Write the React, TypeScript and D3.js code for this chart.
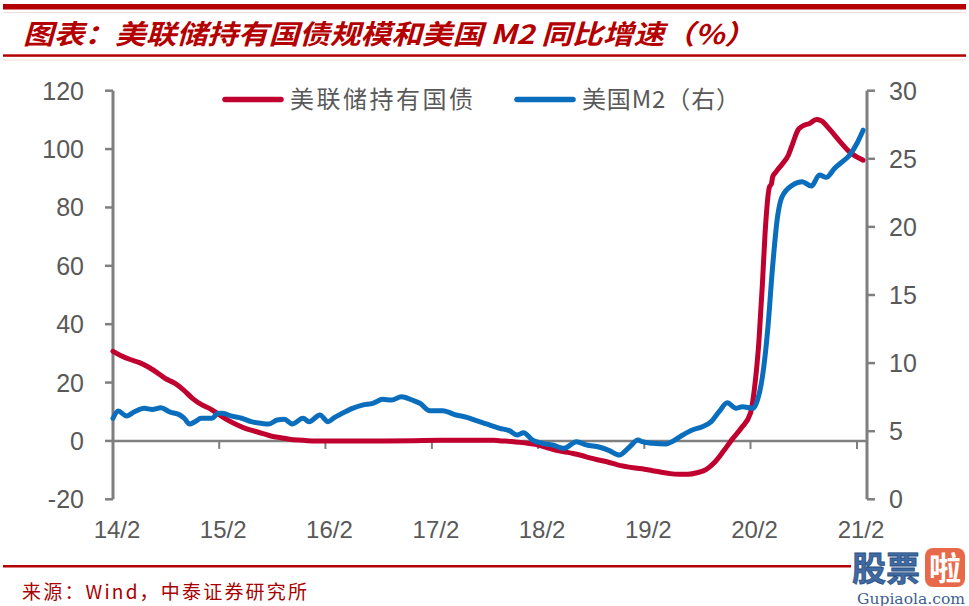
import React from "react";
import * as d3 from "d3";

const fedDates = [
  "2014-02-01","2014-03-01","2014-04-01","2014-05-01","2014-06-01","2014-07-01","2014-08-01","2014-09-01",
  "2014-10-01","2014-11-01","2014-12-01","2015-01-01","2015-02-01","2015-03-01","2015-04-01","2015-05-01",
  "2015-06-01","2015-07-01","2015-08-01","2015-09-01","2015-10-01","2015-11-01","2015-12-01","2016-01-01",
  "2016-04-01","2016-08-01","2016-12-01","2017-03-01","2017-06-01","2017-09-01","2017-10-01","2017-11-01",
  "2017-12-01","2018-01-01","2018-02-01","2018-03-01","2018-04-01","2018-05-01","2018-06-01","2018-07-01",
  "2018-08-01","2018-09-01","2018-10-01","2018-11-01","2018-12-01","2019-01-01","2019-02-01","2019-03-01",
  "2019-04-01","2019-05-01","2019-06-01","2019-07-01","2019-08-01","2019-09-01","2019-10-01","2019-11-01",
  "2019-12-01","2020-01-01","2020-02-01","2020-02-15","2020-03-01","2020-03-13","2020-03-22","2020-04-06",
  "2020-04-13","2020-04-17","2020-04-28","2020-05-21","2020-06-10","2020-06-25","2020-07-13","2020-07-28",
  "2020-08-22","2020-09-14","2020-10-01","2020-10-28","2020-12-01","2021-01-07","2021-01-31","2021-02-22"
];
const fedValues = [
  30.7, 29.2, 27.9, 26.9, 25.4, 23.5, 21.3, 19.8,
  17.5, 14.6, 12.5, 11.0, 9.0, 7.2, 5.6, 4.3,
  3.4, 2.5, 1.6, 1.1, 0.6, 0.3, 0.1, 0.0,
  0.0, 0.0, 0.1, 0.2, 0.2, 0.2, 0.0, -0.2,
  -0.5, -0.9, -1.4, -2.2, -3.1, -3.7, -4.3, -5.0,
  -5.9, -6.6, -7.3, -8.2, -8.8, -9.3, -9.7, -10.2,
  -10.7, -11.2, -11.4, -11.4, -10.9, -9.8, -7.3, -3.4,
  0.7, 4.5, 9.6, 18.3, 34.3, 54.0, 71.0, 87.0,
  88.1, 90.4, 92.1, 95.0, 97.9, 101.9, 106.5, 107.8,
  108.8, 110.1, 109.7, 107.0, 103.0, 99.0, 97.3, 96.2
];

const m2Dates = [
  "2014-02-01","2014-02-19","2014-03-19","2014-04-16","2014-05-19","2014-06-16","2014-07-16","2014-08-13",
  "2014-09-19","2014-10-04","2014-10-22","2014-11-10","2014-12-01","2015-01-07","2015-01-28","2015-02-13",
  "2015-03-13","2015-04-19","2015-05-22","2015-06-25","2015-07-22","2015-08-19","2015-09-13","2015-10-10",
  "2015-11-16","2015-12-07","2016-01-13","2016-02-10","2016-03-04","2016-03-19","2016-05-04","2016-06-07",
  "2016-07-13","2016-08-16","2016-09-16","2016-10-19","2016-11-25","2016-12-22","2017-01-25","2017-03-10",
  "2017-04-25","2017-06-01","2017-07-04","2017-08-07","2017-09-22","2017-10-25","2017-11-22","2017-12-13",
  "2018-01-13","2018-02-16","2018-03-22","2018-05-01","2018-06-13","2018-07-16","2018-09-01","2018-10-04",
  "2018-11-07","2018-12-13","2019-01-10","2019-01-25","2019-03-01","2019-04-16","2019-05-07","2019-06-13",
  "2019-07-16","2019-08-19","2019-09-19","2019-10-16","2019-11-13","2019-12-13","2020-01-04","2020-02-10",
  "2020-02-25","2020-03-13","2020-04-01","2020-04-16","2020-05-04","2020-05-19","2020-06-25","2020-07-28",
  "2020-08-28","2020-09-25","2020-10-19","2020-11-16","2020-12-13","2021-01-07","2021-02-01","2021-02-22"
];
const m2Values = [
  5.95, 6.48, 6.12, 6.43, 6.68, 6.60, 6.73, 6.43,
  6.19, 5.95, 5.53, 5.70, 5.95, 5.95, 6.31, 6.31,
  6.12, 5.95, 5.70, 5.58, 5.53, 5.82, 5.87, 5.53,
  5.95, 5.70, 6.19, 5.70, 6.02, 6.19, 6.68, 6.92,
  7.05, 7.34, 7.29, 7.53, 7.29, 7.05, 6.50, 6.50,
  6.19, 6.02, 5.77, 5.53, 5.21, 5.04, 4.72, 4.89,
  4.35, 4.11, 3.99, 3.74, 4.23, 3.99, 3.82, 3.57,
  3.25, 3.86, 4.35, 4.23, 4.11, 4.06, 4.23, 4.72,
  5.09, 5.33, 5.70, 6.43, 7.09, 6.68, 6.80, 6.68,
  7.29, 9.0, 12.67, 16.84, 20.75, 22.2, 23.08, 23.32,
  23.0, 23.81, 23.64, 24.3, 24.79, 25.28, 26.14, 27.1
];

const xTickDates = ["2014-02-01","2015-02-01","2016-02-01","2017-02-01","2018-02-01","2019-02-01","2020-02-01","2021-02-01"];
const xTickLabels = ["14/2","15/2","16/2","17/2","18/2","19/2","20/2","21/2"];
const leftTicks = [-20, 0, 20, 40, 60, 80, 100, 120];
const rightTicks = [0, 5, 10, 15, 20, 25, 30];

const titleText = "图表：美联储持有国债规模和美国 M2 同比增速（%）";
const legendFed = "美联储持有国债";
const legendM2 = "美国M2（右）";
const sourceText = "来源：Wind，中泰证券研究所";

const parse = d3.timeParse("%Y-%m-%d");

export default function App() {
  const W = 969, H = 606;
  const x = d3.scaleTime()
    .domain([parse("2014-02-01")!, parse("2021-02-01")!])
    .range([113, 857]);
  const yL = d3.scaleLinear().domain([-20, 120]).range([499.3, 90.7]);
  const yR = d3.scaleLinear().domain([0, 30]).range([499.3, 90.7]);

  const fed = fedDates.map((d, i) => ({ d: parse(d)!, v: fedValues[i] }));
  const m2 = m2Dates.map((d, i) => ({ d: parse(d)!, v: m2Values[i] }));

  const fedLine = d3.line<{ d: Date; v: number }>()
    .x(p => x(p.d)).y(p => yL(p.v)).curve(d3.curveMonotoneX);
  const m2Line = d3.line<{ d: Date; v: number }>()
    .x(p => x(p.d)).y(p => yR(p.v)).curve(d3.curveMonotoneX);

  const axisColor = "#7f7f7f";
  const labelColor = "#595959";
  const red = "#c0002f";
  const blue = "#0a6ebd";
  const titleRed = "#b40000";
  const numFont = "'Liberation Sans', Arial, sans-serif";
  const cjkFont = "'Noto Sans CJK SC', sans-serif";

  const xAxisY = yL(0);
  const leftX = 113, rightX = 867;

  return (
    <svg width={W} height={H} style={{ position: "absolute", left: 0, top: 0, background: "#fff" }}>
      <rect x={0} y={0} width={W} height={H} fill="#fff" />
      {/* header */}
      <rect x={3} y={4} width={963} height={5.5} fill={titleRed} />
      <line x1={3} x2={966} y1={12.5} y2={12.5} stroke="#f3dcdc" strokeWidth={1} />
      <text x={23} y={44} fill={titleRed} fontFamily={cjkFont} fontSize={27} fontWeight="bold"
        fontStyle="italic" textLength={732} lengthAdjust="spacingAndGlyphs">{titleText}</text>
      <rect x={3} y={54.3} width={963} height={2.5} fill={titleRed} />
      <line x1={3} x2={966} y1={60} y2={60} stroke="#f3dcdc" strokeWidth={1} />

      {/* x axis */}
      <line x1={leftX} x2={rightX} y1={xAxisY} y2={xAxisY} stroke={axisColor} strokeWidth={2.5} />
      {xTickDates.map((d, i) => {
        const tx = x(parse(d)!);
        return (
          <g key={d}>
            <line x1={tx} x2={tx} y1={xAxisY} y2={xAxisY + 8} stroke={axisColor} strokeWidth={2} />
            <text x={tx + 4} y={538} textAnchor="middle" fill={labelColor} fontFamily={numFont}
              fontSize={24}>{xTickLabels[i]}</text>
          </g>
        );
      })}

      {/* left axis */}
      <line x1={leftX} x2={leftX} y1={yL(120)} y2={yL(-20)} stroke={axisColor} strokeWidth={3} />
      {leftTicks.map(t => (
        <g key={"l" + t}>
          <line x1={leftX - 8} x2={leftX} y1={yL(t)} y2={yL(t)} stroke={axisColor} strokeWidth={2.5} />
          <text x={84} y={yL(t)} dy="0.36em" textAnchor="end" fill={labelColor}
            fontFamily={numFont} fontSize={25}>{t}</text>
        </g>
      ))}

      {/* right axis */}
      <line x1={rightX} x2={rightX} y1={yR(30)} y2={yR(0)} stroke={axisColor} strokeWidth={3} />
      {rightTicks.map(t => (
        <g key={"r" + t}>
          <line x1={rightX} x2={rightX + 8} y1={yR(t)} y2={yR(t)} stroke={axisColor} strokeWidth={2.5} />
          <text x={889} y={yR(t)} dy="0.36em" textAnchor="start" fill={labelColor}
            fontFamily={numFont} fontSize={25}>{t}</text>
        </g>
      ))}

      {/* series */}
      <path d={fedLine(fed) || ""} fill="none" stroke={red} strokeWidth={5}
        strokeLinejoin="round" strokeLinecap="round" />
      <path d={m2Line(m2) || ""} fill="none" stroke={blue} strokeWidth={5}
        strokeLinejoin="round" strokeLinecap="round" />

      {/* legend */}
      <line x1={225} x2={281} y1={99.5} y2={99.5} stroke={red} strokeWidth={5.5} strokeLinecap="round" />
      <text x={290} y={99.5} dy="0.36em" fill={labelColor} fontFamily={cjkFont} fontSize={24}
        textLength={183} lengthAdjust="spacing">{legendFed}</text>
      <line x1={517} x2={573} y1={99.5} y2={99.5} stroke={blue} strokeWidth={5.5} strokeLinecap="round" />
      <text x={582} y={99.5} dy="0.36em" fill={labelColor} fontFamily={cjkFont} fontSize={24}
        textLength={158} lengthAdjust="spacing">{legendM2}</text>

      {/* footer */}
      <rect x={3} y={565} width={848} height={2.5} fill={titleRed} />
      <text x={22} y={599} fill="#a80000" fontFamily={cjkFont} fontSize={19}
        textLength={285} lengthAdjust="spacing">{sourceText}</text>

      {/* watermark */}
      <g>
        <text x={852} y={581} fill="#3f6aa3" stroke="#2b4f80" strokeWidth={0.8}
          fontFamily={cjkFont} fontSize={34} fontWeight="bold">股票</text>
        <rect x={925} y={548} width={40} height={39} rx={8} fill="#e8694a" />
        <text x={945} y={580} textAnchor="middle" fill="#fff" fontFamily={cjkFont}
          fontSize={32} fontWeight="bold">啦</text>
        <text x={857} y={604} fill="#3d5f8f" fontFamily="'DejaVu Serif', serif" fontSize={14}
          textLength={108} lengthAdjust="spacingAndGlyphs">Gupiaola.com</text>
      </g>
    </svg>
  );
}
